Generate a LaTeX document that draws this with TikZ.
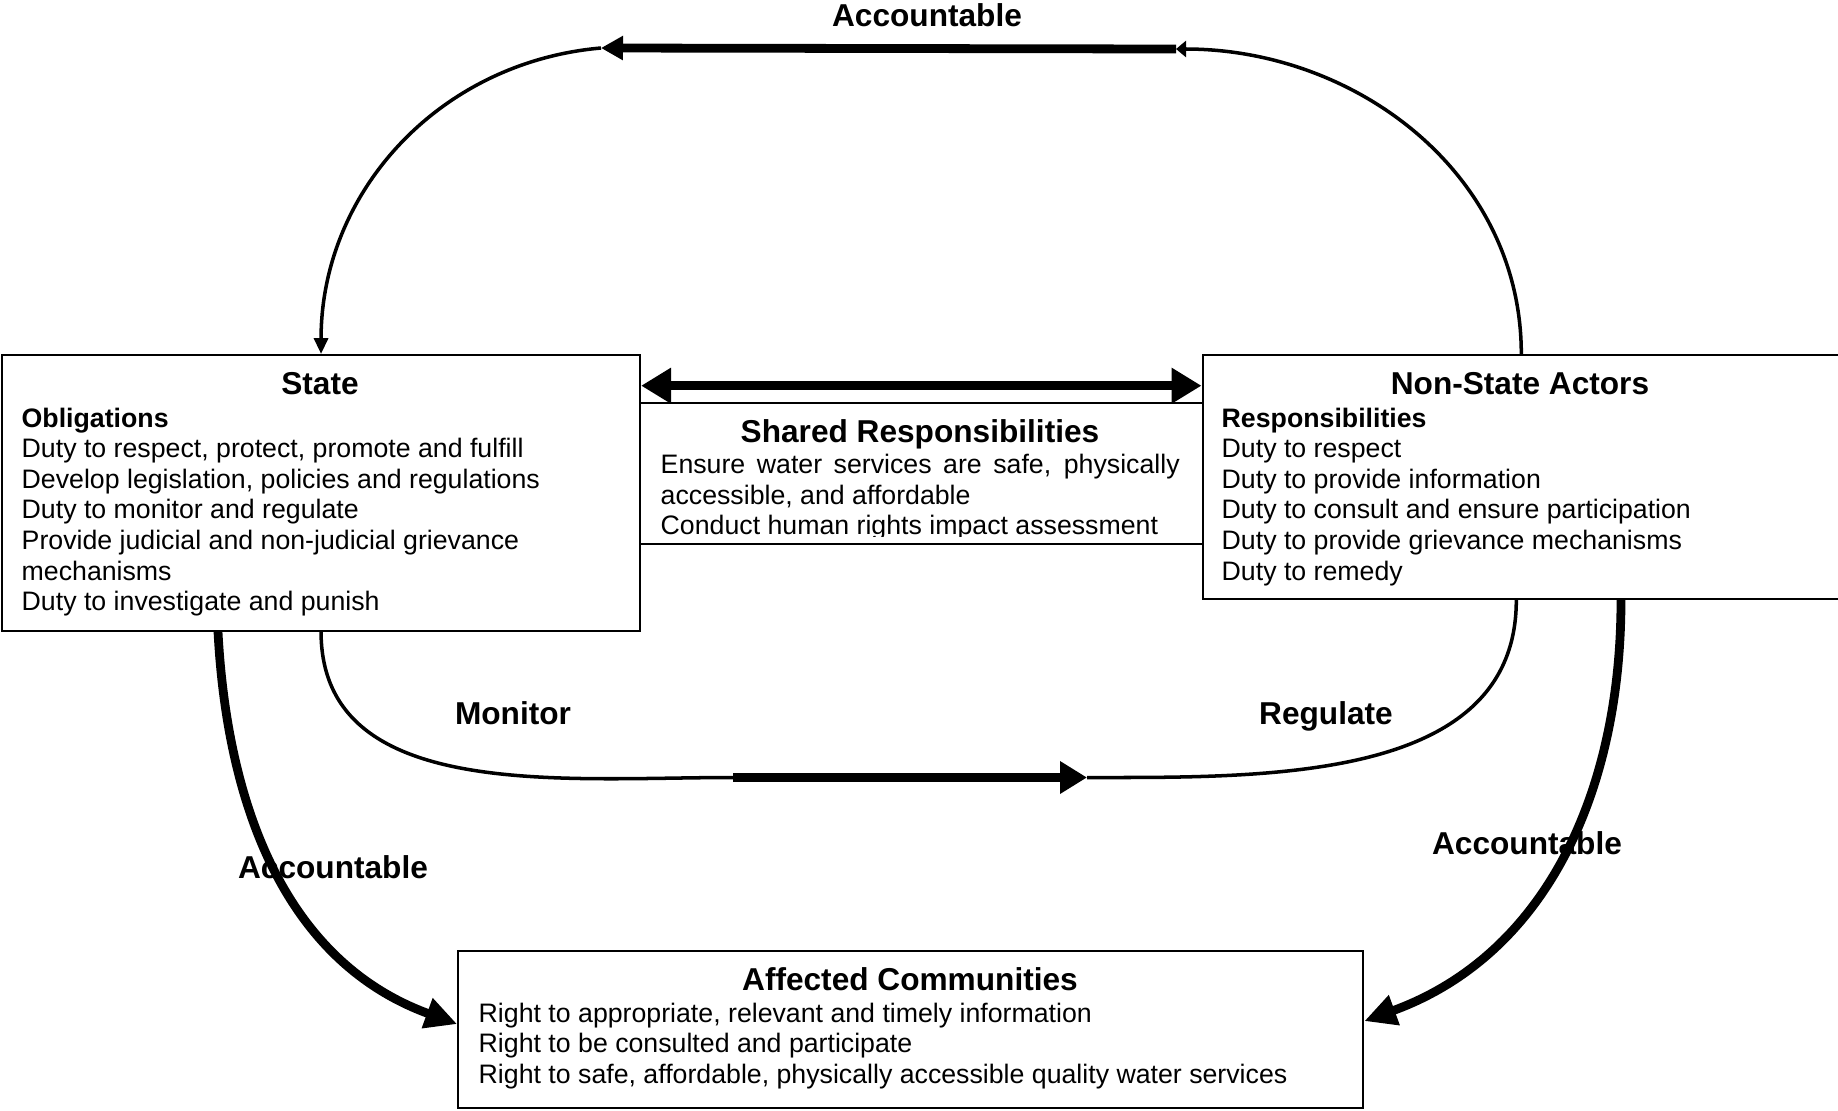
\documentclass[tikz,border=0pt]{standalone}
\usepackage{fontspec}
\setmainfont{Liberation Sans}
\usetikzlibrary{arrows.meta}

\begin{document}
\begin{tikzpicture}[
  box/.style={draw, line width=0.6pt, inner sep=0pt, anchor=north west},
  head/.style={font=\fontsize{9}{11}\selectfont\bfseries, anchor=base, inner sep=0pt},
  item/.style={font=\fontsize{7.6}{9}\selectfont, anchor=base west, inner sep=0pt},
  sub/.style={item, font=\fontsize{7.6}{9}\selectfont\bfseries},
  thinline/.style={line width=1pt},
  thickline/.style={line width=2.5pt},
]
  \clip (0,0) rectangle (18.38,11.10);

  % the four boxes
  \node[box, minimum width=6.38cm, minimum height=2.755cm] (state) at (0.01,7.56) {};
  \node[box, minimum width=5.625cm, minimum height=1.41cm] (shared) at (6.39,7.08) {};
  \node[box, minimum width=6.375cm, minimum height=2.44cm] (nsa) at (12.015,7.56) {};
  \node[box, minimum width=9.05cm, minimum height=1.571cm] (affected) at (4.572,1.605) {};

  % state
  \node[head] (statehead) at (3.20,7.153) {State};
  \node[sub] (st1) at (0.21,6.83) {Obligations};
  \node[item] (st2) at (0.21,6.524) {Duty to respect, protect, promote and fulfill};
  \node[item] (st3) at (0.21,6.218) {Develop legislation, policies and regulations};
  \node[item] (st4) at (0.21,5.912) {Duty to monitor and regulate};
  \node[item] (st5) at (0.21,5.606) {Provide judicial and non-judicial grievance};
  \node[item] (st6) at (0.21,5.30) {mechanisms};
  \node[item] (st7) at (0.21,4.994) {Duty to investigate and punish};

  % non-state actors
  \node[head] (nsahead) at (15.20,7.153) {Non-State Actors};
  \node[sub] (ns1) at (12.21,6.83) {Responsibilities};
  \node[item] (ns2) at (12.21,6.524) {Duty to respect};
  \node[item] (ns3) at (12.21,6.218) {Duty to provide information};
  \node[item] (ns4) at (12.21,5.912) {Duty to consult and ensure participation};
  \node[item] (ns5) at (12.21,5.606) {Duty to provide grievance mechanisms};
  \node[item] (ns6) at (12.21,5.30) {Duty to remedy};

  % shared box, text cut off at the bottom
  \begin{scope}
    \clip (shared.north west) rectangle ([yshift=0.09cm]shared.south east);
    \node[head] (sharedhead) at (9.20,6.672) {Shared Responsibilities};
    \node[item] (sh1) at (6.60,6.365) {\makebox[5.19cm][s]{Ensure water services are safe, physically}};
    \node[item] (sh2) at (6.60,6.06) {accessible, and affordable};
    \node[item] (sh3) at (6.60,5.755) {Conduct human rights impact assessment};
  \end{scope}

  % affected communities
  \node[head] (affhead) at (9.10,1.198) {Affected Communities};
  \node[item] (af1) at (4.78,0.877) {Right to appropriate, relevant and timely information};
  \node[item] (af2) at (4.78,0.572) {Right to be consulted and participate};
  \node[item] (af3) at (4.78,0.268) {Right to safe, affordable, physically accessible quality water services};

  % arrow labels
  \node[head] (accnsa) at (9.27,10.834) {Accountable};
  \node[head] (monitor) at (5.13,3.859) {Monitor};
  \node[head] (regulate) at (13.26,3.859) {Regulate};
  \node[head] (accstate) at (3.33,2.312) {Accountable};
  \node[head] (accright) at (15.27,2.558) {Accountable};

  % top loop
  \coordinate (acctr) at (11.76,10.61);
  \coordinate (acctl) at (6.01,10.62);
  \draw[thinline, -{Triangle[length=0.1cm,width=0.16cm]}] (nsa.north) to[out=90,in=0] (acctr);
  \draw[thickline, -{Triangle[length=0.22cm,width=0.23cm]}] (acctr) -- (acctl);
  \draw[thinline, -{Triangle[length=0.16cm,width=0.14cm]}] (acctl) to[out=185,in=90] (state.north);

  % shared responsibilities
  \draw[thickline, {Triangle[length=0.3cm,width=0.34cm]}-{Triangle[length=0.3cm,width=0.34cm]}]
    ([yshift=-0.317cm]state.north east) -- ([yshift=-0.317cm]nsa.north west);

  % monitor / regulate
  \coordinate (monl) at (7.33,3.325);
  \coordinate (monr) at (10.87,3.325);
  \draw[thinline] (state.south) to[out=-90,in=180] (monl);
  \draw[thickline, -{Triangle[length=0.27cm,width=0.31cm]}] (monl) -- (monr);
  \draw[thinline] (monr) to[out=0,in=-90] ([xshift=-0.05cm]nsa.south);

  % accountable to the communities
  \draw[thickline, -{Triangle[length=0.32cm,width=0.30cm]}] ([xshift=2.17cm]state.south west) to[out=-87,in=160] ([yshift=0.05cm]affected.west);
  \draw[thickline, -{Triangle[length=0.32cm,width=0.30cm]}] ([xshift=4.195cm]nsa.south west) to[out=-90,in=20] ([yshift=0.08cm]affected.east);
\end{tikzpicture}
\end{document}
